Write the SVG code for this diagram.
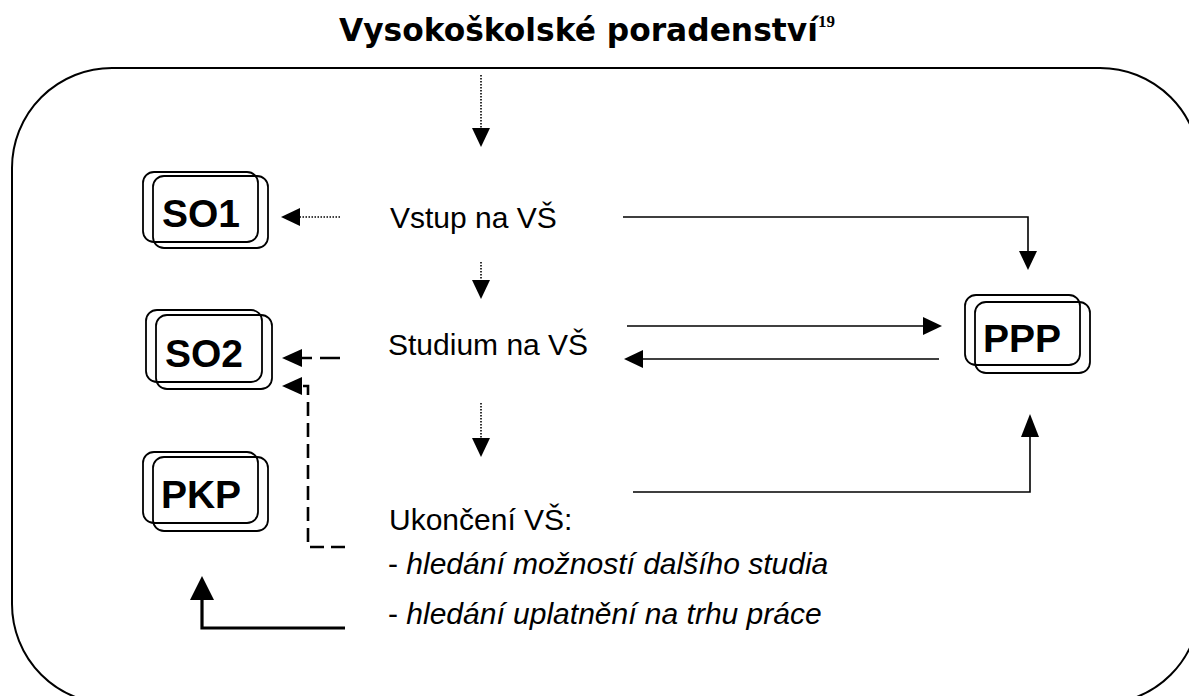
<svg xmlns="http://www.w3.org/2000/svg" width="1189" height="696" viewBox="0 0 1189 696">
<style>
.title{font-family:"DejaVu Sans",Verdana,sans-serif;font-weight:bold;font-size:31.3px;fill:#000}
.sup{font-family:"Liberation Serif","Times New Roman",serif;font-weight:bold;font-size:17px}
.lbl{font-family:"Liberation Sans",Arial,sans-serif;font-size:30px;fill:#000}
.it{font-style:italic}
.nt{font-family:"Liberation Sans",Arial,sans-serif;font-weight:bold;font-size:39px;fill:#000;text-anchor:middle}
.box{fill:none;stroke:#000;stroke-width:1.8}
.ln{fill:none;stroke:#000;stroke-width:1.6}
.dot{fill:none;stroke:#000;stroke-width:1.6;stroke-dasharray:1.5 1.5}
.dash{fill:none;stroke:#000;stroke-width:2.6}
.thick{fill:none;stroke:#000;stroke-width:3.2}
.ah{fill:#000;stroke:none}
</style>
<rect width="1189" height="696" fill="#fff"/>
<text x="339" y="41" class="title">Vysokoškolské poradenství<tspan class="sup" dy="-14">19</tspan></text>
<rect id="frame" x="12" y="68" width="1188" height="636" rx="100" ry="100" fill="none" stroke="#000" stroke-width="2"/>

<g id="SO1">
<rect class="box" x="143" y="172" width="115" height="70" rx="11"/>
<rect class="box" x="153" y="176" width="115" height="72" rx="11"/>
<text class="nt" x="201" y="227">SO1</text>
</g>
<g id="SO2">
<rect class="box" x="146" y="310" width="116" height="72" rx="11"/>
<rect class="box" x="156" y="315" width="116" height="74" rx="11"/>
<text class="nt" x="204" y="367">SO2</text>
</g>
<g id="PKP">
<rect class="box" x="143" y="452" width="115" height="71" rx="11"/>
<rect class="box" x="153" y="457" width="115" height="74" rx="11"/>
<text class="nt" x="201" y="508">PKP</text>
</g>
<g id="PPP">
<rect class="box" x="965" y="295" width="115" height="70" rx="11"/>
<rect class="box" x="975" y="302" width="115" height="71" rx="11"/>
<text class="nt" x="1022" y="352">PPP</text>
</g>

<g id="texts">
<text class="lbl" x="390" y="228">Vstup na VŠ</text>
<text class="lbl" x="388" y="355">Studium na VŠ</text>
<text class="lbl" x="389" y="530">Ukončení VŠ:</text>
<text class="lbl" x="388" y="574">- <tspan class="it">hledání možností dalšího studia</tspan></text>
<text class="lbl" x="388" y="624">- <tspan class="it">hledání uplatnění na trhu práce</tspan></text>
</g>

<g id="connectors">
<line class="dot" x1="481" y1="75" x2="481" y2="130"/>
<polygon class="ah" points="472,128 490,128 481,147"/>
<line class="dot" x1="340" y1="217" x2="298" y2="217"/>
<polygon class="ah" points="300,208 300,226 281,217"/>
<polyline class="ln" points="623,217 1028,217 1028,252"/>
<polygon class="ah" points="1019,251 1037,251 1028,270"/>
<line class="dot" x1="481" y1="262" x2="481" y2="282"/>
<polygon class="ah" points="472,280 490,280 481,299"/>
<line class="ln" x1="627" y1="326" x2="925" y2="326"/>
<polygon class="ah" points="923,317 923,335 942,326"/>
<line class="ln" x1="939" y1="359" x2="641" y2="359"/>
<polygon class="ah" points="643,350 643,368 624,359"/>
<line class="dash" x1="340" y1="358" x2="300" y2="358" stroke-dasharray="20 8"/>
<polygon class="ah" points="302,349 302,367 282,358"/>
<polyline class="dash" points="345,547 308,547 308,386 300,386" stroke-dasharray="14 7"/>
<polygon class="ah" points="302,377 302,395 282,386"/>
<line class="dot" x1="481" y1="403" x2="481" y2="440"/>
<polygon class="ah" points="472,438 490,438 481,457"/>
<polyline class="ln" points="633,492 1030,492 1030,436"/>
<polygon class="ah" points="1021,437 1039,437 1030,414"/>
<polyline class="thick" points="345,628 202,628 202,598"/>
<polygon class="ah" points="190,600 214,600 202,576"/>
</g>
</svg>
